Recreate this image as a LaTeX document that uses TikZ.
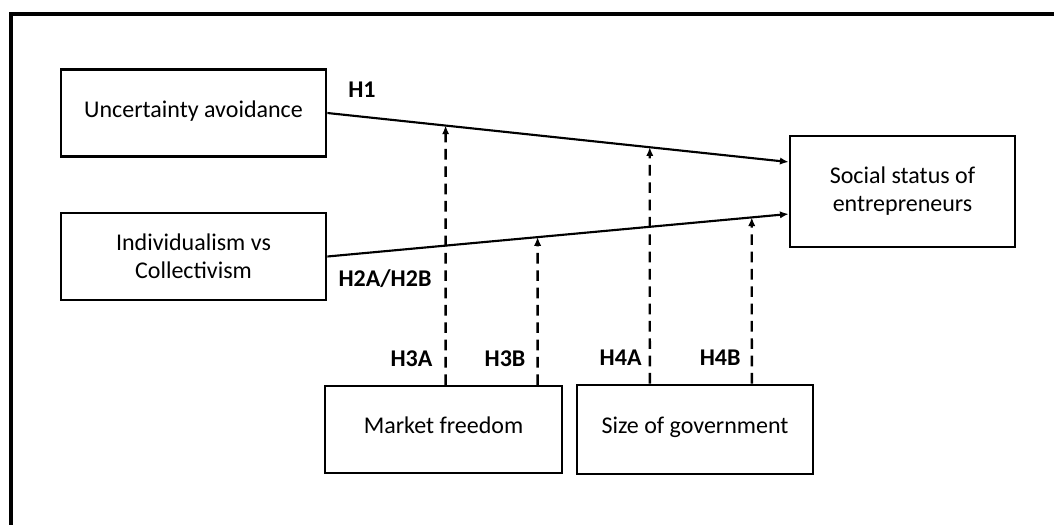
\documentclass[tikz,border=0pt]{standalone}
\usepackage{fontspec}
\setmainfont{Carlito}
\usetikzlibrary{arrows.meta,positioning,calc}

\begin{document}
\begin{tikzpicture}[
  x=0.75pt, y=-0.75pt,
  font=\fontsize{18}{21}\selectfont,
  box/.style={
    draw, line width=1.8pt, align=center, inner sep=2pt,
    minimum height=65pt
  },
  oneline/.style={text height=1.7ex, text depth=0.3ex},
  line/.style={-{Latex[length=6.5pt,width=5.5pt]}, line width=1.6pt},
  mod/.style={-{Latex[length=6.5pt,width=5.5pt]}, line width=1.8pt,
    dash pattern=on 8pt off 5pt},
  hlab/.style={font=\bfseries\fontsize{18}{21}\selectfont, inner sep=0pt}
]

% Page and frame
\useasboundingbox (0,0) rectangle (1054,525);
\clip (0,0) rectangle (1054,525);
\draw[line width=3pt] (11,14) rectangle (1080,560);

% Cultural dimensions
\node[box, oneline, minimum width=199pt] (ua) at (193.5,113) {Uncertainty avoidance};
\node[box, minimum width=199pt] (ivc) at (193.5,256.5) {Individualism vs\\Collectivism};

% Outcome
\node[box, minimum width=169pt, minimum height=83pt] (sse) at (902.5,191.5)
  {Social status of\\entrepreneurs};

% Institutional moderators
\node[box, oneline, minimum width=178pt] (mf) at (443.5,429.5) {Market freedom};
\node[box, oneline, minimum width=177pt, minimum height=67pt] (sog) at (695,429.5) {Size of government};

% Arrow ends on the outcome box
\coordinate (in1) at ($(sse.west)+(0,-29.5)$);
\coordinate (in2) at ($(sse.west)+(0,22.5)$);

% Main effects
\draw[line] (ua.east) -- (in1);
\draw[line] (ivc.east) -- (in2);

% Moderator roots
\coordinate (h3a) at ($(mf.north west)+(122,0)$);
\coordinate (h3b) at ($(mf.north west)+(214,0)$);
\coordinate (h4a) at ($(sog.north west)+(74,0)$);
\coordinate (h4b) at ($(sog.north west)+(176,0)$);
\coordinate (t3a) at (h3a |- ua.north);
\coordinate (t3b) at (h3b |- ua.north);
\coordinate (t4a) at (h4a |- ua.north);
\coordinate (t4b) at (h4b |- ua.north);

% Moderating effects
\draw[mod] (h3a) -- (intersection of h3a--t3a and ua.east--in1);
\draw[mod] (h3b) -- (intersection of h3b--t3b and ivc.east--in2);
\draw[mod] (h4a) -- (intersection of h4a--t4a and ua.east--in1);
\draw[mod] (h4b) -- (intersection of h4b--t4b and ivc.east--in2);

% Hypothesis labels
\node[hlab] (l1) at (362,90) {H1};
\node[hlab] (l2) at (385,279) {H2A/H2B};
\node[hlab, anchor=east] (l3a) at ($(h3a)+(-13,-26)$) {H3A};
\node[hlab, anchor=east] (l3b) at ($(h3b)+(-12,-26)$) {H3B};
\node[hlab, anchor=east] (l4a) at ($(h4a)+(-8,-26)$) {H4A};
\node[hlab, anchor=east] (l4b) at ($(h4b)+(-11,-26)$) {H4B};

\end{tikzpicture}
\end{document}
